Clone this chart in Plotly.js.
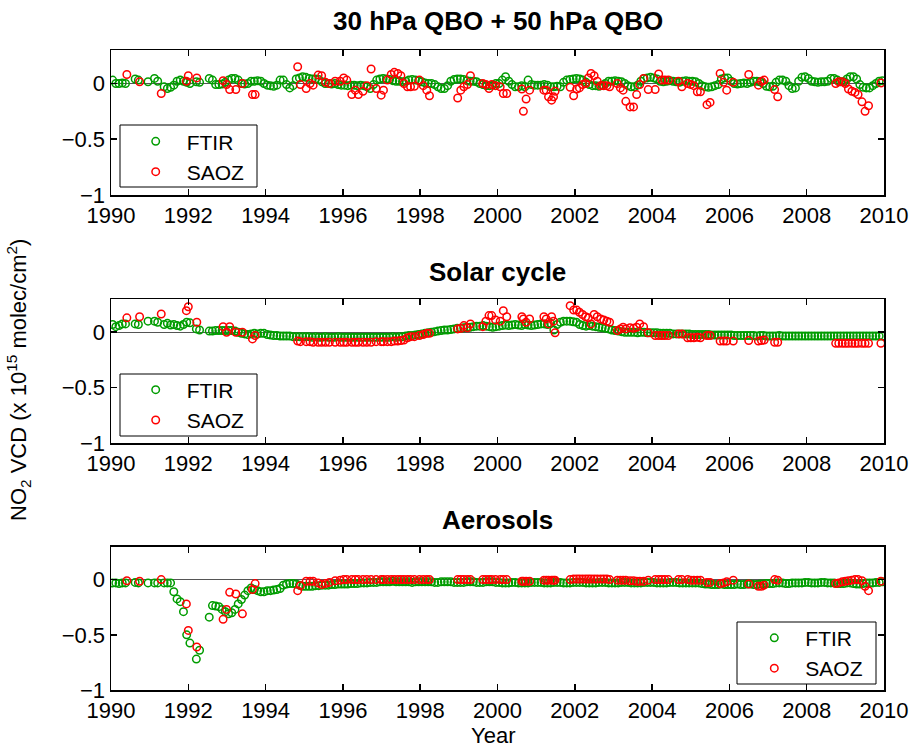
<!DOCTYPE html>
<html>
<head>
<meta charset="utf-8">
<script src="https://cdn.plot.ly/plotly-3.0.1.min.js"></script>
<style>html,body{margin:0;padding:0;background:#fff;}#chart{width:912px;height:747px;}</style>
</head>
<body>
<div id="chart"></div>
<script>
// ---------- DATA ----------
const panelTitles = ['30 hPa QBO + 50 hPa QBO', 'Solar cycle', 'Aerosols'];
const seriesNames = ['FTIR', 'SAOZ'];
const xTickVals = [1990, 1992, 1994, 1996, 1998, 2000, 2002, 2004, 2006, 2008, 2010];
const yTickVals = [-1, -0.5, 0];
const ftirStartYear = 1990; // monthly values, Jan..Dec per row, null = no measurement

const ftirQbo = [
  0.03, 0.0, 0.0, 0.005, 0.0, null, null, 0.04, 0.03, null, null, 0.015,        // 1990
  null, 0.045, 0.02, null, -0.03, -0.045, -0.035, -0.015, 0.02, 0.03, 0.02, 0.01, // 1991
  0.0, null, 0.015, 0.01, null, null, 0.045, 0.03, -0.01, -0.01, -0.005, 0.01,   // 1992
  0.03, 0.045, 0.045, 0.03, 0.0, -0.005, 0.0, 0.02, 0.02, 0.025, 0.02, 0.0,       // 1993
  -0.015, -0.02, -0.025, -0.015, 0.03, 0.03, -0.01, -0.04, -0.02, 0.04, 0.05, 0.06, // 1994
  0.055, 0.045, 0.04, 0.04, 0.035, 0.015, 0.0, 0.0, -0.005, 0.0, -0.01, -0.015,   // 1995
  -0.015, -0.02, -0.015, -0.015, -0.02, -0.015, -0.02, -0.03, -0.045, -0.01, 0.03, 0.04, // 1996
  0.045, 0.04, 0.035, 0.025, 0.02, 0.02, 0.015, 0.02, 0.03, 0.035, 0.03, 0.025,   // 1997
  0.015, 0.005, 0.0, 0.0, -0.01, -0.03, -0.045, -0.045, -0.02, 0.02, 0.035, 0.04, // 1998
  0.04, 0.035, 0.025, 0.02, 0.02, 0.015, 0.0, -0.01, -0.02, -0.02, -0.015, 0.0,   // 1999
  0.0, 0.03, 0.06, 0.02, -0.01, -0.03, -0.03, -0.02, -0.03, 0.03, -0.01, -0.015,  // 2000
  -0.015, -0.015, -0.01, -0.015, -0.03, -0.03, -0.025, -0.03, 0.01, 0.03, 0.035, 0.04, // 2001
  0.045, 0.04, 0.03, 0.01, -0.01, -0.02, -0.02, -0.025, -0.015, 0.0, 0.02, 0.02,  // 2002
  0.025, 0.02, 0.015, 0.0, -0.02, -0.03, -0.03, -0.015, 0.02, 0.045, 0.05, 0.055, // 2003
  0.05, 0.04, 0.02, 0.015, 0.02, 0.025, 0.02, 0.015, 0.01, 0.02, 0.025, 0.02,     // 2004
  0.02, 0.015, 0.0, -0.02, -0.03, -0.035, -0.03, -0.02, -0.01, 0.04, 0.05, 0.05,  // 2005
  0.02, 0.0, -0.005, 0.0, 0.005, 0.0, 0.01, 0.02, 0.02, 0.015, 0.0, -0.025,       // 2006
  -0.03, -0.025, 0.01, 0.03, 0.03, 0.02, -0.02, -0.045, -0.04, 0.02, 0.055, 0.06, // 2007
  0.045, 0.02, 0.015, 0.01, 0.015, 0.015, 0.02, 0.045, 0.045, 0.03, 0.015, 0.015, // 2008
  0.04, 0.06, 0.06, 0.04, -0.01, -0.035, -0.04, -0.04, -0.02, 0.0, 0.02, 0.025    // 2009
];

const ftirSolar = [
  0.07, 0.05, 0.06, 0.075, 0.075, null, null, 0.075, 0.07, null, null, 0.1,       // 1990
  null, 0.1, 0.09, null, 0.07, 0.08, 0.065, 0.07, 0.06, 0.055, 0.07, 0.09,        // 1991
  0.085, null, 0.03, 0.02, null, null, 0.01, 0.01, 0.015, 0.015, 0.015, 0.015,    // 1992
  0.015, 0.015, 0.01, 0.0, -0.01, -0.015, -0.02, -0.015, -0.01, -0.015, -0.01, -0.01, // 1993
  -0.02, -0.025, -0.03, -0.03, -0.035, -0.035, -0.035, -0.035, -0.04, -0.04, -0.04, -0.04, // 1994
  -0.04, -0.04, -0.045, -0.04, -0.045, -0.045, -0.04, -0.045, -0.045, -0.045, -0.04, -0.045, // 1995
  -0.045, -0.045, -0.045, -0.045, -0.045, -0.045, -0.045, -0.045, -0.045, -0.045, -0.045, -0.045, // 1996
  -0.045, -0.045, -0.045, -0.04, -0.045, -0.04, -0.04, -0.035, -0.03, -0.03, -0.025, -0.02, // 1997
  -0.015, -0.01, -0.005, 0.0, 0.005, 0.01, 0.015, 0.02, 0.02, 0.025, 0.03, 0.035, // 1998
  0.035, 0.04, 0.045, 0.045, 0.05, 0.055, 0.055, 0.06, 0.055, 0.05, 0.045, 0.05,  // 1999
  0.055, 0.06, 0.065, 0.06, 0.065, 0.07, 0.065, 0.06, 0.07, 0.065, 0.06, 0.065,   // 2000
  0.07, 0.075, 0.075, 0.07, 0.08, 0.02, 0.07, 0.09, 0.1, 0.1, 0.1, 0.095,         // 2001
  0.09, 0.07, 0.06, 0.055, 0.06, 0.055, 0.05, 0.045, 0.04, 0.035, 0.03, 0.02,     // 2002
  0.015, 0.01, 0.005, 0.0, 0.0, 0.0, 0.0, -0.005, 0.0, 0.0, -0.005, -0.005,       // 2003
  -0.005, -0.005, -0.01, -0.01, -0.01, -0.01, -0.015, -0.015, -0.015, -0.015, -0.015, -0.015, // 2004
  -0.02, -0.02, -0.02, -0.02, -0.02, -0.02, -0.025, -0.025, -0.025, -0.025, -0.025, -0.025, // 2005
  -0.025, -0.03, -0.03, -0.03, -0.03, -0.03, -0.03, -0.03, -0.035, -0.03, -0.03, -0.035, // 2006
  -0.035, -0.035, -0.035, -0.03, -0.035, -0.035, -0.035, -0.035, -0.035, -0.035, -0.035, -0.035, // 2007
  -0.035, -0.035, -0.035, -0.035, -0.035, -0.035, -0.035, -0.035, -0.035, -0.035, -0.035, -0.035, // 2008
  -0.035, -0.035, -0.035, -0.035, -0.035, -0.035, -0.035, -0.035, -0.035, -0.035, -0.035, -0.035  // 2009
];

const ftirAerosol = [
  -0.03, -0.03, -0.035, -0.03, -0.03, null, null, -0.025, -0.03, null, null, -0.03, // 1990
  null, -0.03, -0.03, null, -0.03, -0.03, -0.03, -0.11, -0.175, -0.2, -0.29, -0.5,   // 1991
  -0.575, null, -0.72, -0.64, null, null, -0.34, -0.235, -0.24, -0.245, -0.27, -0.29, // 1992
  -0.31, -0.3, -0.27, -0.22, -0.18, -0.14, -0.1, -0.075, -0.09, -0.1, -0.11, -0.11,  // 1993
  -0.1, -0.1, -0.095, -0.09, -0.08, -0.05, -0.04, -0.035, -0.035, -0.04, -0.05, -0.06, // 1994
  -0.06, -0.06, -0.06, -0.055, -0.055, -0.05, -0.05, -0.05, -0.045, -0.045, -0.04, -0.04, // 1995
  -0.04, -0.04, -0.035, -0.035, -0.035, -0.03, -0.03, -0.03, -0.025, -0.025, -0.025, -0.02, // 1996
  -0.02, -0.02, -0.02, -0.015, -0.02, -0.02, -0.02, -0.02, -0.02, -0.025, -0.02, -0.02, // 1997
  -0.02, -0.02, -0.02, -0.02, -0.025, -0.025, -0.02, -0.02, -0.02, -0.02, -0.025, -0.025, // 1998
  -0.025, -0.025, -0.02, -0.02, -0.02, -0.025, -0.025, -0.025, -0.02, -0.02, -0.02, -0.025, // 1999
  -0.025, -0.03, -0.03, -0.03, -0.025, -0.025, -0.03, -0.03, -0.03, -0.03, -0.025, -0.025, // 2000
  -0.025, -0.025, -0.03, -0.03, -0.03, -0.025, -0.025, -0.025, -0.03, -0.03, -0.03, -0.025, // 2001
  -0.025, -0.025, -0.025, -0.03, -0.03, -0.03, -0.03, -0.025, -0.025, -0.025, -0.03, -0.03, // 2002
  -0.03, -0.03, -0.025, -0.025, -0.025, -0.03, -0.03, -0.03, -0.03, -0.025, -0.025, -0.025, // 2003
  -0.025, -0.03, -0.03, -0.03, -0.03, -0.025, -0.025, -0.025, -0.03, -0.03, -0.03, -0.03, // 2004
  -0.03, -0.03, -0.03, -0.035, -0.04, -0.04, -0.045, -0.045, -0.045, -0.04, -0.045, -0.045, // 2005
  -0.045, -0.045, -0.04, -0.045, -0.045, -0.04, -0.04, -0.045, -0.045, -0.04, -0.04, -0.035, // 2006
  -0.035, -0.035, -0.03, -0.03, -0.03, -0.035, -0.035, -0.03, -0.03, -0.03, -0.03, -0.025, // 2007
  -0.025, -0.03, -0.03, -0.03, -0.025, -0.025, -0.03, -0.03, -0.03, -0.035, -0.035, -0.035, // 2008
  -0.03, -0.03, -0.035, -0.04, -0.04, -0.035, -0.03, -0.03, -0.03, -0.025, -0.025, -0.02  // 2009
];

const saozDates = [
  1990.41, 1990.74, 1991.30, 1991.95, 1992.00, 1992.22, 1992.90, 1992.99, 1993.07, 1993.23,
  1993.40, 1993.66, 1993.73, 1994.83, 1994.90, 1995.05, 1995.15, 1995.23, 1995.36, 1995.45,
  1995.55, 1995.65, 1995.80, 1995.93, 1996.02, 1996.10, 1996.23, 1996.32, 1996.40, 1996.52,
  1996.62, 1996.73, 1996.86, 1996.99, 1997.05, 1997.15, 1997.25, 1997.33, 1997.42, 1997.50,
  1997.58, 1997.67, 1997.75, 1997.85, 1997.98, 1998.08, 1998.17, 1998.24, 1998.97, 1999.05,
  1999.13, 1999.22, 1999.30, 1999.62, 1999.70, 1999.78, 1999.85, 1999.95, 2000.07, 2000.15,
  2000.24, 2000.63, 2000.67, 2000.74, 2000.83, 2001.20, 2001.26, 2001.32, 2001.40, 2001.45,
  2001.49, 2001.88, 2001.97, 2002.05, 2002.12, 2002.20, 2002.28, 2002.35, 2002.42, 2002.50,
  2002.58, 2002.67, 2002.75, 2002.83, 2002.90, 2003.10, 2003.18, 2003.25, 2003.32, 2003.43,
  2003.52, 2003.60, 2003.68, 2003.78, 2003.90, 2004.08, 2004.17, 2004.25, 2004.33, 2004.42,
  2004.68, 2004.77, 2004.92, 2005.00, 2005.08, 2005.17, 2005.25, 2005.42, 2005.50, 2005.76,
  2005.85, 2005.93, 2006.10, 2006.50, 2006.75, 2006.83, 2006.90, 2007.17, 2007.25, 2008.75,
  2008.83, 2008.92, 2009.00, 2009.08, 2009.17, 2009.25, 2009.33, 2009.43, 2009.51, 2009.60,
  2009.92
];

const saozQbo = [
  0.08, 0.015, -0.09, 0.02, 0.07, 0.05, 0.025, -0.01, -0.055, -0.055,
  0.0, -0.1, -0.1, 0.15, -0.01, -0.045, 0.0, -0.015, 0.075, 0.07,
  0.01, 0.0, 0.02, 0.02, 0.05, 0.03, -0.1, -0.06, -0.1, -0.07,
  -0.02, 0.13, -0.045, -0.105, -0.06, 0.03, 0.08, 0.1, 0.09, 0.07,
  0.0, -0.03, -0.03, -0.025, 0.03, -0.02, -0.06, -0.11, -0.13, -0.06,
  -0.03, -0.01, 0.07, 0.0, -0.01, -0.045, -0.01, -0.02, -0.03, -0.09,
  -0.09, -0.05, -0.25, -0.14, -0.06, -0.06, -0.06, -0.12, -0.15, -0.12,
  -0.07, -0.035, -0.11, -0.05, -0.04, -0.01, 0.0, 0.05, 0.09, 0.07,
  0.02, -0.02, -0.02, -0.02, -0.03, 0.0, -0.04, -0.06, -0.16, -0.21,
  -0.21, -0.1, -0.01, 0.045, -0.055, -0.055, 0.085, 0.03, 0.03, 0.03,
  0.02, -0.03, 0.0, -0.01, -0.02, -0.075, -0.075, -0.19, -0.17, 0.09,
  0.01, -0.06, 0.01, 0.08, -0.015, 0.02, 0.03, -0.055, -0.12, 0.0,
  0.015, 0.015, 0.0, -0.05, -0.07, -0.08, -0.1, -0.165, -0.25, -0.2,
  0.005
];

const saozSolar = [
  0.13, 0.14, 0.165, 0.195, 0.23, 0.09, 0.05, 0.0, 0.05, 0.0,
  0.0, -0.06, -0.03, -0.08, -0.085, -0.085, -0.085, -0.09, -0.09, -0.09,
  -0.09, -0.09, -0.09, -0.09, -0.09, -0.09, -0.09, -0.09, -0.09, -0.09,
  -0.09, -0.09, -0.085, -0.085, -0.085, -0.085, -0.085, -0.08, -0.08, -0.075,
  -0.07, -0.05, -0.04, -0.04, -0.03, -0.02, -0.01, -0.01, 0.03, 0.035,
  0.06, 0.04, 0.075, 0.05, 0.1, 0.15, 0.15, 0.11, 0.1, 0.195,
  0.14, 0.14, 0.12, 0.09, 0.12, 0.14, 0.12, 0.075, 0.14, 0.1,
  -0.005, 0.24, 0.2, 0.2, 0.18, 0.16, 0.14, 0.13, 0.075, 0.16,
  0.14, 0.12, 0.11, 0.1, 0.09, 0.015, 0.03, 0.045, 0.03, 0.04,
  0.035, 0.045, 0.075, 0.05, -0.005, -0.03, -0.03, -0.03, -0.03, -0.03,
  -0.015, -0.015, -0.05, -0.05, -0.05, -0.045, -0.05, -0.03, -0.03, -0.08,
  -0.08, -0.08, -0.08, -0.075, -0.08, -0.075, -0.07, -0.09, -0.09, -0.1,
  -0.1, -0.1, -0.1, -0.1, -0.1, -0.1, -0.1, -0.1, -0.1, -0.1,
  -0.1
];

const saozAerosol = [
  -0.01, -0.015, 0.0, -0.22, -0.46, -0.61, -0.36, -0.27, -0.115, -0.13,
  -0.31, -0.09, -0.036, -0.1, -0.055, -0.015, -0.015, -0.015, -0.03, -0.045,
  -0.035, -0.025, -0.01, -0.005, 0.0, 0.0, 0.0, 0.0, 0.0, 0.0,
  0.0, 0.0, 0.0, 0.0, 0.0, 0.0, 0.0, 0.0, 0.0, 0.0,
  0.0, 0.0, 0.0, 0.0, 0.0, 0.0, 0.0, 0.0, 0.0, 0.0,
  0.0, 0.0, 0.0, 0.0, 0.0, 0.0, 0.0, 0.0, 0.0, 0.0,
  0.0, -0.015, -0.015, -0.015, -0.015, -0.005, -0.005, -0.005, -0.005, -0.005,
  -0.005, 0.0, 0.005, 0.005, 0.005, 0.005, 0.005, 0.005, 0.005, 0.005,
  0.005, 0.005, 0.005, 0.005, 0.0, -0.005, -0.005, -0.005, -0.005, -0.01,
  -0.01, -0.015, -0.015, -0.015, -0.005, 0.0, 0.0, 0.0, 0.0, 0.0,
  0.0, 0.0, 0.0, -0.005, -0.005, -0.005, -0.005, -0.025, -0.025, -0.035,
  -0.03, -0.02, -0.005, -0.04, -0.06, -0.06, -0.05, 0.0, -0.005, -0.035,
  -0.03, -0.02, -0.015, -0.01, -0.005, 0.0, 0.0, -0.01, -0.06, -0.1,
  -0.015
];

// ---------- BUILD ----------
function monthlySeries(vals) {
  const xs = [], ys = [];
  vals.forEach((v, i) => {
    if (v !== null) {
      xs.push(ftirStartYear + Math.floor(i / 12) + ((i % 12) + 0.5) / 12);
      ys.push(v);
    }
  });
  return {xs, ys};
}

const FONT = 'Liberation Sans, Arial, Helvetica, sans-serif';
const GREEN = '#009c00';
const RED = '#ff0000';

const ftirSets = [ftirQbo, ftirSolar, ftirAerosol];
const saozSets = [saozQbo, saozSolar, saozAerosol];
const legendIds = ['legend', 'legend2', 'legend3'];

const traces = [];
for (let p = 0; p < 3; p++) {
  const sfx = p === 0 ? '' : String(p + 1);
  const f = monthlySeries(ftirSets[p]);
  traces.push({
    type: 'scatter', mode: 'markers', name: seriesNames[0],
    x: f.xs, y: f.ys, xaxis: 'x' + sfx, yaxis: 'y' + sfx, legend: legendIds[p],
    marker: {symbol: 'circle-open', size: 7.5, color: GREEN, line: {width: 1.5, color: GREEN}},
    cliponaxis: true, hoverinfo: 'x+y'
  });
  traces.push({
    type: 'scatter', mode: 'markers', name: seriesNames[1],
    x: saozDates, y: saozSets[p], xaxis: 'x' + sfx, yaxis: 'y' + sfx, legend: legendIds[p],
    marker: {symbol: 'circle-open', size: 7.5, color: RED, line: {width: 1.5, color: RED}},
    cliponaxis: true, hoverinfo: 'x+y'
  });
}

// geometry (pixels): plot area top 50, bottom 690
const M = {l: 111, r: 28, t: 50, b: 57};
const H = 747 - M.t - M.b;   // 640
const W = 912 - M.l - M.r;   // 773
const py = v => (690 - v) / H;
const px = v => (v - M.l) / W;

const domains = [[py(195), 1], [py(443), py(299)], [0, py(546.5)]];

function xaxis(p) {
  return {
    domain: [0, 1], anchor: p === 0 ? 'y' : 'y' + (p + 1),
    range: [1990, 2010], tickmode: 'array', tickvals: xTickVals,
    ticks: 'inside', ticklen: 6, tickwidth: 1.5, tickcolor: '#000',
    showline: true, linecolor: '#000', linewidth: 1.5, mirror: 'ticks',
    showgrid: false, zeroline: false,
    tickfont: {family: FONT, size: 22, color: '#000'}
  };
}
function yaxis(p) {
  return {
    domain: domains[p], anchor: p === 0 ? 'x' : 'x' + (p + 1),
    range: [-1, 0.3], tickmode: 'array', tickvals: yTickVals,
    ticks: 'inside', ticklen: 6, tickwidth: 1.5, tickcolor: '#000',
    showline: true, linecolor: '#000', linewidth: 1.5, mirror: 'ticks',
    showgrid: false, zeroline: true, zerolinecolor: '#555', zerolinewidth: 1,
    tickfont: {family: FONT, size: 22, color: '#000'}
  };
}

function legendAt(xPx, topPx) {
  return {
    x: px(xPx), y: py(topPx), xanchor: 'left', yanchor: 'top',
    bgcolor: 'rgba(0,0,0,0)', borderwidth: 0, itemwidth: 52,
    font: {family: FONT, size: 21, color: '#000'}, tracegroupgap: 0
  };
}

const boxes = [[120, 257, 125, 187], [120, 257, 374, 436], [737, 876, 622, 684]];
const shapes = boxes.map(b => ({
  type: 'rect', xref: 'paper', yref: 'paper', layer: 'above',
  x0: px(b[0]), x1: px(b[1]), y0: py(b[3]), y1: py(b[2]),
  line: {color: '#000', width: 1}, fillcolor: '#fff'
}));

const titleY = [21, 272, 520];
const annotations = panelTitles.map((t, i) => ({
  text: '<b>' + t + '</b>', xref: 'paper', yref: 'paper',
  x: 0.5, y: py(titleY[i]), xanchor: 'center', yanchor: 'middle', showarrow: false,
  font: {family: FONT, size: 26, color: '#000'}
}));
annotations.push({
  text: 'NO<sub>2</sub> VCD (x 10<sup>15</sup> molec/cm<sup>2</sup>)',
  xref: 'paper', yref: 'paper', x: px(18), y: py(380), textangle: -90,
  xanchor: 'center', yanchor: 'middle', showarrow: false,
  font: {family: FONT, size: 22, color: '#000'}
});
annotations.push({
  text: 'Year', xref: 'paper', yref: 'paper', x: px(493), y: py(735),
  xanchor: 'center', yanchor: 'middle', showarrow: false,
  font: {family: FONT, size: 22, color: '#000'}
});

const layout = {
  width: 912, height: 747, margin: M,
  paper_bgcolor: '#fff', plot_bgcolor: '#fff',
  showlegend: true,
  xaxis: xaxis(0), xaxis2: xaxis(1), xaxis3: xaxis(2),
  yaxis: yaxis(0), yaxis2: yaxis(1), yaxis3: yaxis(2),
  legend: legendAt(124.7, 121.2),
  legend2: legendAt(124.7, 369.5),
  legend3: legendAt(743.3, 617.7),
  shapes: shapes, annotations: annotations,
  font: {family: FONT, color: '#000'}
};

Plotly.newPlot('chart', traces, layout, {staticPlot: true, displayModeBar: false});
</script>
</body>
</html>
